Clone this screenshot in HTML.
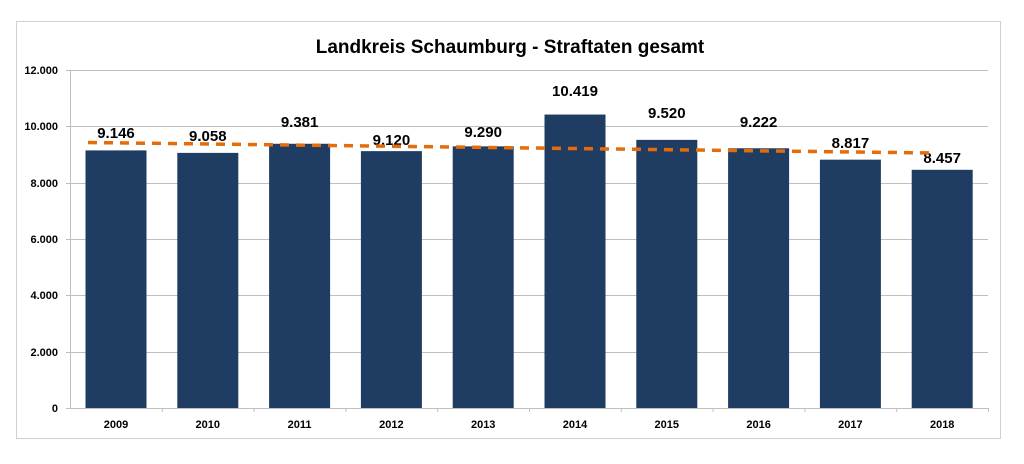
<!DOCTYPE html>
<html><head><meta charset="utf-8"><style>body{margin:0;background:#fff}</style></head><body>
<svg width="1024" height="459" xmlns="http://www.w3.org/2000/svg" font-family="Liberation Sans, sans-serif">
<rect x="16.5" y="21.5" width="984" height="417" fill="#fff" stroke="#d0d0d0"/>
<text x="510" y="53" text-anchor="middle" font-size="19" font-weight="bold" fill="#000">Landkreis Schaumburg - Straftaten gesamt</text>
<g stroke="#bfbfbf" stroke-width="1">
<line x1="66" y1="70.5" x2="988" y2="70.5"/>
<line x1="66" y1="126.5" x2="988" y2="126.5"/>
<line x1="66" y1="183.5" x2="988" y2="183.5"/>
<line x1="66" y1="239.5" x2="988" y2="239.5"/>
<line x1="66" y1="295.5" x2="988" y2="295.5"/>
<line x1="66" y1="352.5" x2="988" y2="352.5"/>
<line x1="66" y1="408.5" x2="988" y2="408.5"/>
<line x1="70.5" y1="70" x2="70.5" y2="408"/>
</g>
<g font-size="11" font-weight="bold" text-anchor="end" fill="#000">
<text x="58" y="74">12.000</text><text x="58" y="130">10.000</text><text x="58" y="187">8.000</text>
<text x="58" y="243">6.000</text><text x="58" y="299">4.000</text><text x="58" y="356">2.000</text><text x="58" y="412">0</text>
</g>
<g fill="#1f3d63" id="bars"></g>
<g id="lab"></g>
<line x1="88" y1="142.5" x2="935" y2="153" stroke="#e46c0a" stroke-width="3.5" stroke-dasharray="9,7"/>
</svg>
<script>
var v=[9146,9058,9381,9120,9290,10419,9520,9222,8817,8457],ly=[133,136,122,140,132,91,113,122,143,158],s="http://www.w3.org/2000/svg";
var b=document.getElementById('bars'),l=document.getElementById('lab');
v.forEach(function(d,i){var c=116+i*91.8,t=408-d/2000*56.33;
var r=document.createElementNS(s,'rect');r.setAttribute('x',c-30.5);r.setAttribute('y',t);r.setAttribute('width',61);r.setAttribute('height',408-t);b.appendChild(r);
var x=document.createElementNS(s,'text');x.setAttribute('x',c);x.setAttribute('y',ly[i]+5);x.setAttribute('text-anchor','middle');x.setAttribute('font-size','15');x.setAttribute('font-weight','bold');x.textContent=(d/1000).toFixed(3);l.appendChild(x);
var y=document.createElementNS(s,'text');y.setAttribute('x',c);y.setAttribute('y',428);y.setAttribute('text-anchor','middle');y.setAttribute('font-size','11');y.setAttribute('font-weight','bold');y.textContent=2009+i;l.appendChild(y);
var k=document.createElementNS(s,'line');var kx=70.5+(i+1)*91.8;k.setAttribute('x1',kx);k.setAttribute('x2',kx);k.setAttribute('y1',408);k.setAttribute('y2',412);k.setAttribute('stroke','#bfbfbf');l.appendChild(k);});
</script>
</body></html>
